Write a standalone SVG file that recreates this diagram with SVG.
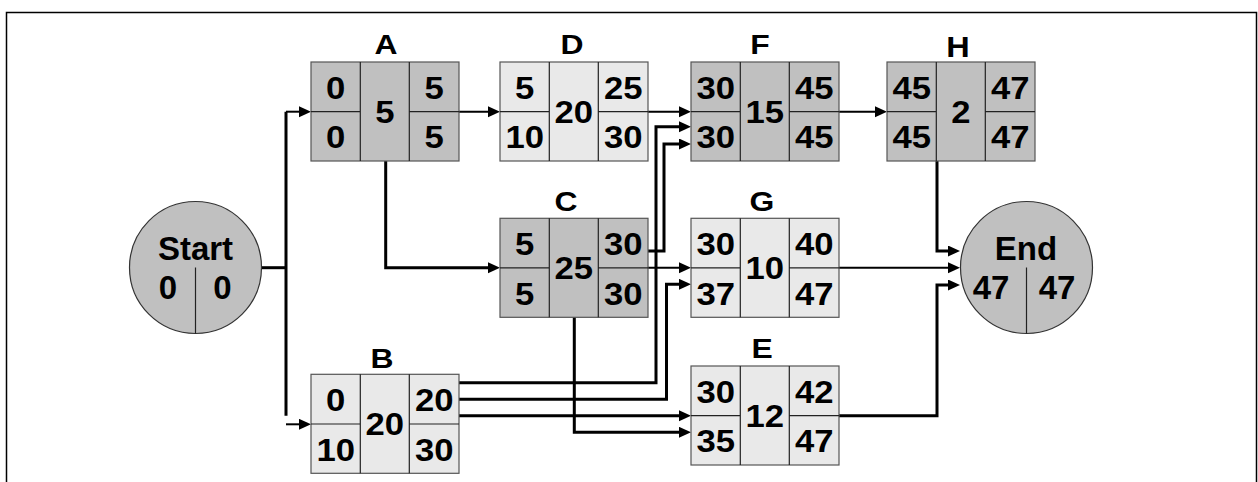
<svg xmlns="http://www.w3.org/2000/svg" width="1258" height="482" viewBox="0 0 1258 482">
<defs>
<marker id="arr" markerUnits="userSpaceOnUse" markerWidth="13" markerHeight="12" refX="6" refY="5.5" orient="auto" viewBox="0 0 13 12">
<path d="M0,0 L12,5.5 L0,11 z" fill="#000"/>
</marker>
<style>
.dk{fill:#c0c0c0;stroke:#555;stroke-width:1.2}
.lt{fill:#e9e9e9;stroke:#555;stroke-width:1.2}
.grid{fill:none;stroke:#222;stroke-width:1.2}
.n{font-family:"Liberation Sans",Arial,sans-serif;font-weight:bold;font-size:31.5px;text-anchor:middle;fill:#000}
.lb{font-family:"Liberation Sans",Arial,sans-serif;font-weight:bold;font-size:27px;text-anchor:middle;fill:#000}
.cn{font-family:"Liberation Sans",Arial,sans-serif;font-weight:bold;font-size:33px;text-anchor:middle;fill:#000}
.c3{fill:none;stroke:#000;stroke-width:3}
.c2{fill:none;stroke:#000;stroke-width:2}
.ar{marker-end:url(#arr)}
</style>
</defs>
<path d="M6.5,482 V12.5 H1256.5 V482" fill="none" stroke="#000" stroke-width="1.5"/>

<g id="connectors">
<path class="c3" d="M261,267.7 H286"/>
<path class="c3" d="M286,111.7 V415.7"/>
<path class="c2 ar" d="M286,111.7 H305"/>
<path class="c2 ar" d="M286,424.3 H305"/>
<path class="c3 ar" d="M385.7,161 V267.7 H494"/>
<path class="c2 ar" d="M459,111.7 H494"/>
<path class="c2 ar" d="M648,111.7 H685"/>
<path class="c2 ar" d="M839,111.7 H881"/>
<path class="c3 ar" d="M648,251 H664 V144 H685"/>
<path class="c2 ar" d="M648,267.7 H685"/>
<path class="c3 ar" d="M574.3,317 V432.3 H685"/>
<path class="c3 ar" d="M459,382.7 H656 V126.7 H685"/>
<path class="c3 ar" d="M459,399.3 H666.5 V284.3 H685"/>
<path class="c3 ar" d="M459,415.7 H685"/>
<path class="c3 ar" d="M937,161 V251 H954"/>
<path class="c2 ar" d="M839,267.7 H954"/>
<path class="c3 ar" d="M839,415.7 H937 V285 H954"/>
</g>

<g id="Start">
<circle cx="195.5" cy="267.5" r="66" fill="#c0c0c0" stroke="#333" stroke-width="1.2"/>
<path class="grid" d="M195.5,267.5 V333.5"/>
<text class="cn" x="195.5" y="260">Start</text>
<text class="cn" x="168" y="299">0</text>
<text class="cn" x="222.5" y="299">0</text>
</g>

<g id="End">
<circle cx="1026.5" cy="267.5" r="66" fill="#c0c0c0" stroke="#333" stroke-width="1.2"/>
<path class="grid" d="M1026.5,267.5 V333.5"/>
<text class="cn" x="1026" y="260">End</text>
<text class="cn" x="991" y="298.5">47</text>
<text class="cn" x="1057" y="298.5">47</text>
</g>

<g id="A">
<rect class="dk" x="311" y="62" width="148" height="99"/>
<path class="grid" d="M360.3,62 V161 M409.3,62 V161 M311,111.7 H360.3 M409.3,111.7 H459"/>
<text class="lb" transform="translate(386,53.5) scale(1.18,1)">A</text>
<text class="n" transform="translate(335.7,99) scale(1.1,1)">0</text>
<text class="n" transform="translate(335.7,148.3) scale(1.1,1)">0</text>
<text class="n" transform="translate(384.8,122.7) scale(1.1,1)">5</text>
<text class="n" transform="translate(434.2,99) scale(1.1,1)">5</text>
<text class="n" transform="translate(434.2,148.3) scale(1.1,1)">5</text>
</g>

<g id="D">
<rect class="lt" x="500" y="62" width="148" height="99"/>
<path class="grid" d="M549.3,62 V161 M598.3,62 V161 M500,111.7 H549.3 M598.3,111.7 H648"/>
<text class="lb" transform="translate(572,53.5) scale(1.18,1)">D</text>
<text class="n" transform="translate(524.7,99) scale(1.1,1)">5</text>
<text class="n" transform="translate(524.7,148.3) scale(1.1,1)">10</text>
<text class="n" transform="translate(573.8,122.7) scale(1.1,1)">20</text>
<text class="n" transform="translate(623.2,99) scale(1.1,1)">25</text>
<text class="n" transform="translate(623.2,148.3) scale(1.1,1)">30</text>
</g>

<g id="F">
<rect class="dk" x="691" y="62" width="148" height="99"/>
<path class="grid" d="M740.3,62 V161 M789.3,62 V161 M691,111.7 H740.3 M789.3,111.7 H839"/>
<text class="lb" transform="translate(760,53.5) scale(1.18,1)">F</text>
<text class="n" transform="translate(715.7,99) scale(1.1,1)">30</text>
<text class="n" transform="translate(715.7,148.3) scale(1.1,1)">30</text>
<text class="n" transform="translate(764.8,122.7) scale(1.1,1)">15</text>
<text class="n" transform="translate(814.2,99) scale(1.1,1)">45</text>
<text class="n" transform="translate(814.2,148.3) scale(1.1,1)">45</text>
</g>

<g id="H">
<rect class="dk" x="887" y="62" width="148" height="99"/>
<path class="grid" d="M936.3,62 V161 M985.3,62 V161 M887,111.7 H936.3 M985.3,111.7 H1035"/>
<text class="lb" transform="translate(958,56.5) scale(1.12,1)" style="font-size:29px">H</text>
<text class="n" transform="translate(911.7,99) scale(1.1,1)">45</text>
<text class="n" transform="translate(911.7,148.3) scale(1.1,1)">45</text>
<text class="n" transform="translate(960.8,122.7) scale(1.1,1)">2</text>
<text class="n" transform="translate(1010.2,99) scale(1.1,1)">47</text>
<text class="n" transform="translate(1010.2,148.3) scale(1.1,1)">47</text>
</g>

<g id="C">
<rect class="dk" x="500" y="218.3" width="148" height="99"/>
<path class="grid" d="M549.3,218.3 V317.3 M598.3,218.3 V317.3 M500,267.8 H549.3 M598.3,267.8 H648"/>
<text class="lb" transform="translate(566,210.7) scale(1.18,1)">C</text>
<text class="n" transform="translate(524.7,255.3) scale(1.1,1)">5</text>
<text class="n" transform="translate(524.7,304.6) scale(1.1,1)">5</text>
<text class="n" transform="translate(573.8,279) scale(1.1,1)">25</text>
<text class="n" transform="translate(623.2,255.3) scale(1.1,1)">30</text>
<text class="n" transform="translate(623.2,304.6) scale(1.1,1)">30</text>
</g>

<g id="G">
<rect class="lt" x="691" y="218.3" width="148" height="99"/>
<path class="grid" d="M740.3,218.3 V317.3 M789.3,218.3 V317.3 M691,267.8 H740.3 M789.3,267.8 H839"/>
<text class="lb" transform="translate(762,210.7) scale(1.18,1)">G</text>
<text class="n" transform="translate(715.7,255.3) scale(1.1,1)">30</text>
<text class="n" transform="translate(715.7,304.6) scale(1.1,1)">37</text>
<text class="n" transform="translate(764.8,279) scale(1.1,1)">10</text>
<text class="n" transform="translate(814.2,255.3) scale(1.1,1)">40</text>
<text class="n" transform="translate(814.2,304.6) scale(1.1,1)">47</text>
</g>

<g id="B">
<rect class="lt" x="311" y="374.3" width="148" height="99"/>
<path class="grid" d="M360.3,374.3 V473.3 M409.3,374.3 V473.3 M311,424 H360.3 M409.3,424 H459"/>
<text class="lb" transform="translate(382,368.3) scale(1.18,1)">B</text>
<text class="n" transform="translate(335.7,411.3) scale(1.1,1)">0</text>
<text class="n" transform="translate(335.7,460.6) scale(1.1,1)">10</text>
<text class="n" transform="translate(384.8,435) scale(1.1,1)">20</text>
<text class="n" transform="translate(434.2,411.3) scale(1.1,1)">20</text>
<text class="n" transform="translate(434.2,460.6) scale(1.1,1)">30</text>
</g>

<g id="E">
<rect class="lt" x="691" y="366" width="148" height="99"/>
<path class="grid" d="M740.3,366 V465 M789.3,366 V465 M691,415.7 H740.3 M789.3,415.7 H839"/>
<text class="lb" transform="translate(762,358.3) scale(1.18,1)">E</text>
<text class="n" transform="translate(715.7,403) scale(1.1,1)">30</text>
<text class="n" transform="translate(715.7,452.3) scale(1.1,1)">35</text>
<text class="n" transform="translate(764.8,426.7) scale(1.1,1)">12</text>
<text class="n" transform="translate(814.2,403) scale(1.1,1)">42</text>
<text class="n" transform="translate(814.2,452.3) scale(1.1,1)">47</text>
</g>
</svg>
